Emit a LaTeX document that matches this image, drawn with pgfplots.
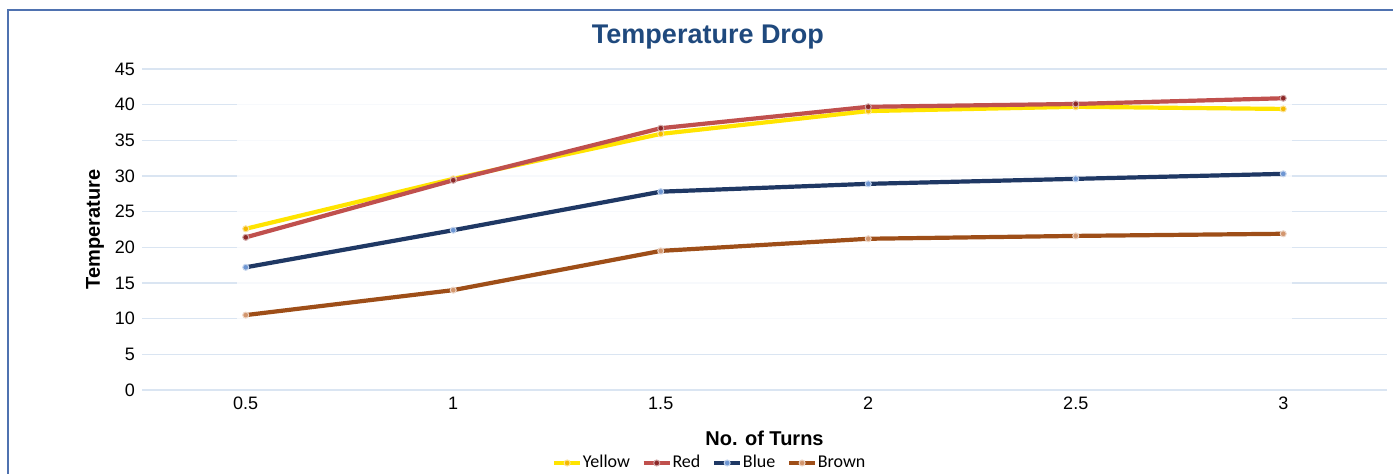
\documentclass[border=0pt]{standalone}
\usepackage{fontspec}
\setmainfont{Liberation Sans}
\newfontfamily\legendfont{Carlito}
\usepackage{pgfplots}
\pgfplotsset{compat=1.18}

\definecolor{framec}{RGB}{79,114,176}
\definecolor{titlec}{RGB}{31,73,125}
\definecolor{gridc}{RGB}{218,229,242}
\definecolor{yell}{RGB}{255,228,0}
\definecolor{yellm}{RGB}{245,185,0}
\definecolor{redl}{RGB}{192,80,77}
\definecolor{redm}{RGB}{140,40,40}
\definecolor{bluel}{RGB}{31,56,100}
\definecolor{bluem}{RGB}{110,150,210}
\definecolor{brownl}{RGB}{158,78,24}
\definecolor{brownm}{RGB}{210,150,110}

\begin{document}
\begin{tikzpicture}
  \begin{axis}[
      name=ax,
      width=622.5pt, height=160.5pt, scale only axis,
      xmin=0.25, xmax=3.25, ymin=0, ymax=45,
      xtick={0.5,1,1.5,2,2.5,3},
      ytick={0,5,10,15,20,25,30,35,40,45},
      axis line style={draw=none},
      tick style={draw=none},
      ymajorgrids,
      grid style={gridc, line width=0.7pt},
      ticklabel style={font=\fontsize{9}{10}\selectfont},
      /pgf/number format/assume math mode=true,
      legend columns=-1,
      legend style={draw=none, at={(0.5,0)}, anchor=center,
        xshift=-27.75pt, yshift=-36.5pt, inner sep=0pt,
        font=\legendfont\fontsize{9}{10}\selectfont,
        nodes={inner xsep=0.3pt, inner ysep=1pt},
        /tikz/every odd column/.append style={column sep=0pt},
        /tikz/every even column/.append style={column sep=5.5pt}},
      legend image code/.code={%
        \draw[mark repeat=2,mark phase=2,#1] plot coordinates {(0cm,0cm)(0.23cm,0cm)(0.46cm,0cm)};},
      every axis plot/.append style={line width=2.1pt},
    ]
    % faded block where the pasted image hides the grid
    \fill[white, opacity=0.8] (axis cs:0.48,9.4) rectangle (axis cs:3.02,42.3);

    \addplot[yell, mark=*, mark size=1.5pt,
      mark options={fill=yellm, draw=white!60!yellm, line width=0.5pt}]
      coordinates {(0.5,22.6) (1,29.6) (1.5,35.9) (2,39.1) (2.5,39.7) (3,39.4)};
    \addlegendentry{Yellow}
    \addplot[redl, mark=*, mark size=1.5pt,
      mark options={fill=redm, draw=white!60!redm, line width=0.5pt}]
      coordinates {(0.5,21.4) (1,29.4) (1.5,36.7) (2,39.7) (2.5,40.1) (3,40.9)};
    \addlegendentry{Red}
    \addplot[bluel, mark=*, mark size=1.5pt,
      mark options={fill=bluem, draw=white!60!bluem, line width=0.5pt}]
      coordinates {(0.5,17.2) (1,22.4) (1.5,27.8) (2,28.9) (2.5,29.6) (3,30.3)};
    \addlegendentry{Blue}
    \addplot[brownl, mark=*, mark size=1.5pt,
      mark options={fill=brownm, draw=white!60!brownm, line width=0.5pt}]
      coordinates {(0.5,10.5) (1,14.0) (1.5,19.5) (2,21.2) (2.5,21.6) (3,21.9)};
    \addlegendentry{Brown}
  \end{axis}

  \node[font=\bfseries\fontsize{13.5}{15}\selectfont, text=titlec]
    at ([xshift=-28.25pt, yshift=16pt]ax.north) {Temperature Drop};
  \node[font=\bfseries\fontsize{10}{12}\selectfont]
    at ([yshift=-24pt]ax.south) {No. of Turns};
  \node[font=\bfseries\fontsize{10}{12}\selectfont, rotate=90]
    at ([xshift=-23.5pt]ax.west) {Temperature};

  \pgfresetboundingbox
  \path[use as bounding box] ([xshift=-71pt, yshift=-42pt]ax.south west)
    rectangle ([xshift=3pt, yshift=34.5pt]ax.north east);
  \draw[framec, line width=1.2pt] ([xshift=-67pt, yshift=-60pt]ax.south west)
    |- ([xshift=20pt, yshift=29.5pt]ax.north east);
\end{tikzpicture}
\end{document}
